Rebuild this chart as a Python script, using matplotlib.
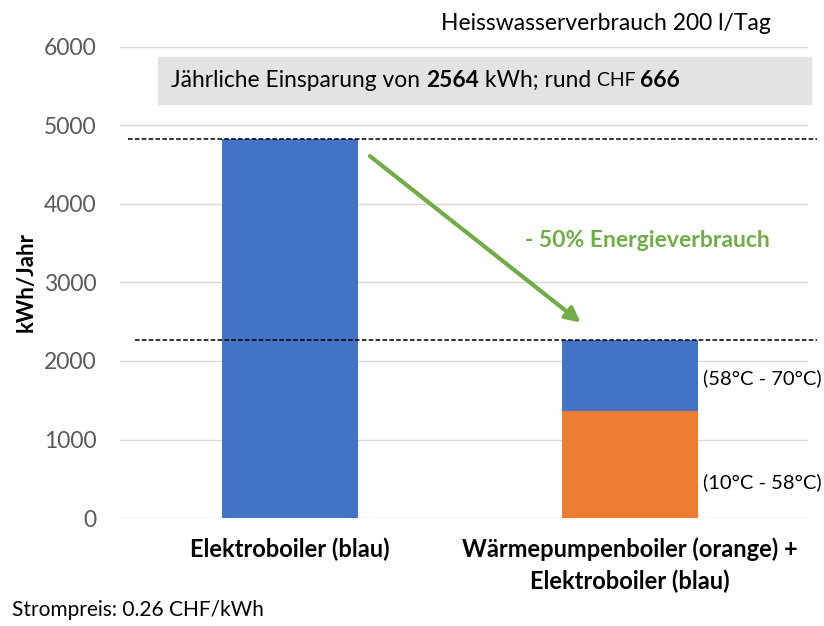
import matplotlib
matplotlib.use('Agg')
import matplotlib.pyplot as plt
from matplotlib.transforms import offset_copy

plt.rcParams['font.family'] = ['Lato', 'DejaVu Sans']

# data
categories = ['Elektroboiler (blau)', 'Wärmepumpenboiler (orange) +\nElektroboiler (blau)']
elektro = [4830, 903]
waermepumpe = [0, 1363]
yticks = [0, 1000, 2000, 3000, 4000, 5000, 6000]
einsparung = 2564
chf = 666

blue = '#4472C4'
orange = '#ED7D31'
green = '#70AD47'
grey = '#595959'

fig = plt.figure(figsize=(8.24, 6.26), dpi=100)
ax = fig.add_axes([0.1456, 0.1725, 0.835, 0.7525])

x = [0, 1]
ax.bar(x, waermepumpe, width=0.4, color=orange, zorder=2)
ax.bar(x, elektro, width=0.4, bottom=waermepumpe, color=blue, zorder=2)

ax.set_xlim(-0.5, 1.5235)
ax.set_ylim(0, 6000)
ax.set_yticks(yticks)
ax.set_yticklabels([str(v) for v in yticks], fontsize=16.5, color=grey)
ax.set_xticks(x)
ax.set_xticklabels(categories, fontsize=17, fontweight='bold', color='black', linespacing=1.45)
ax.tick_params(length=0)
ax.tick_params(axis='y', pad=17)
ax.tick_params(axis='x', pad=14)
ax.grid(axis='y', color='#d9d9d9', linewidth=1, zorder=0)
for s in ax.spines.values():
    s.set_visible(False)
ax.set_ylabel('kWh/Jahr', fontsize=16, fontweight='bold', labelpad=5)

# dashed reference lines at both totals
tot1 = elektro[0] + waermepumpe[0]
tot2 = elektro[1] + waermepumpe[1]
ax.plot([-0.476, 1.55], [tot1, tot1], ls=(0, (3, 1.5)), color='black', lw=1.1, clip_on=False, zorder=3)
ax.plot([-0.455, 1.55], [tot2, tot2], ls=(0, (3, 1.5)), color='black', lw=1.1, clip_on=False, zorder=3)

# green arrow
ax.annotate('', xy=(0.855, 2490), xytext=(0.235, 4610),
            arrowprops=dict(arrowstyle='-|>', color=green, lw=3, mutation_scale=22, shrinkA=0, shrinkB=0))
ax.text(1.05, 3540, '- 50% Energieverbrauch', color=green, fontsize=16.5, fontweight='bold',
        ha='center', va='center')

# segment labels
ax.text(1.215, waermepumpe[1] + elektro[1] / 2 - 40, '(58°C - 70°C)', fontsize=14.5, va='center')
ax.text(1.215, 460, '(10°C - 58°C)', fontsize=14.5, va='center')

# grey banner
ax.add_patch(plt.Rectangle((-0.388, 5270), 1.92, 600, color='#e3e3e3', zorder=1, clip_on=False))

fig.canvas.draw()
r = fig.canvas.get_renderer()
pieces = [('Jährliche Einsparung von ', 'normal', 16.4), (str(einsparung), 'bold', 16.4),
          (' kWh; rund ', 'normal', 16.4), ('CHF ', 'normal', 14), (str(chf), 'bold', 16.4)]
trans = ax.transData
for txt, w, fs in pieces:
    t = ax.text(-0.35, 5570, txt, fontsize=fs, fontweight=w, va='center', transform=trans, zorder=4)
    bb = t.get_window_extent(renderer=r)
    trans = offset_copy(trans, fig=fig, x=bb.width, y=0, units='dots')

fig.text(0.935, 0.963, 'Heisswasserverbrauch 200 l/Tag', fontsize=16.5, ha='right', va='center')
fig.text(0.014, 0.025, 'Strompreis: 0.26 CHF/kWh', fontsize=15, ha='left', va='center')

fig.savefig('out.png', dpi=100)
